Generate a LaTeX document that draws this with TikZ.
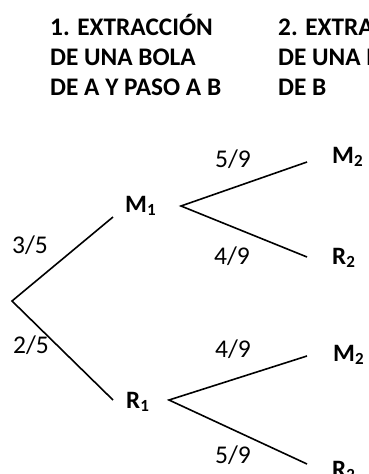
\documentclass[tikz,border=0pt]{standalone}
\usepackage{fontspec}
\setmainfont{Carlito}
\newcommand{\lbl}[2]{#1\raisebox{-3pt}{\fontsize{17}{17}\selectfont #2}}
\begin{document}
\begin{tikzpicture}[x=1pt,y=-1pt,
  ttl/.style={anchor=base west,inner sep=0pt,font=\fontsize{25.3}{30}\selectfont\bfseries},
  frac/.style={anchor=base west,inner sep=0pt,font=\fontsize{25.5}{25}\selectfont},
  lab/.style={anchor=base west,inner sep=0pt,font=\fontsize{25}{25}\selectfont\bfseries},
  branch/.style={line width=1.6pt,black}]
\clip (0,0) rectangle (369,474);
\fill[white] (0,0) rectangle (369,474);
% titles
\node[ttl] (t1a) at (50,35) {1. EXTRACCIÓN};
\node[ttl] (t1b) at (50,65) {DE UNA BOLA};
\node[ttl] (t1c) at (50,95) {DE A Y PASO A B};
\node[ttl] (t2a) at (278,35) {2. EXTRACCIÓN};
\node[ttl] (t2b) at (278,65) {DE UNA BOLA};
\node[ttl] (t2c) at (278,95) {DE B};
% tree points
\coordinate (root) at (12,301);
\coordinate (m1in) at (113,217);
\coordinate (r1in) at (113,400);
\coordinate (m1out) at (181,206);
\coordinate (r1out) at (169,400);
\coordinate (m2ain) at (307,162);
\coordinate (r2ain) at (307,257);
\coordinate (m2bin) at (307,356);
\coordinate (r2bin) at (307,464);
% labels
\node[lab] (M1) at (125,212) {\lbl{M}{1}};
\node[lab] (R1) at (126,408) {\lbl{R}{1}};
\node[lab] (M2a) at (332,163) {\lbl{M}{2}};
\node[lab] (R2a) at (332,264) {\lbl{R}{2}};
\node[lab] (M2b) at (333,361) {\lbl{M}{2}};
\node[lab] (R2b) at (332,477) {\lbl{R}{2}};
% probabilities
\node[frac] (p35) at (12,253) {3/5};
\node[frac] (p25) at (13,353) {2/5};
\node[frac] (p59a) at (215,167) {5/9};
\node[frac] (p49a) at (214,264) {4/9};
\node[frac] (p49b) at (215,357) {4/9};
\node[frac] (p59b) at (215,463) {5/9};
% branches
\draw[branch] (m1in) -- (root) -- (r1in);
\draw[branch] (m2ain) -- (m1out) -- (r2ain);
\draw[branch] (m2bin) -- (r1out) -- (r2bin);
\end{tikzpicture}
\end{document}
